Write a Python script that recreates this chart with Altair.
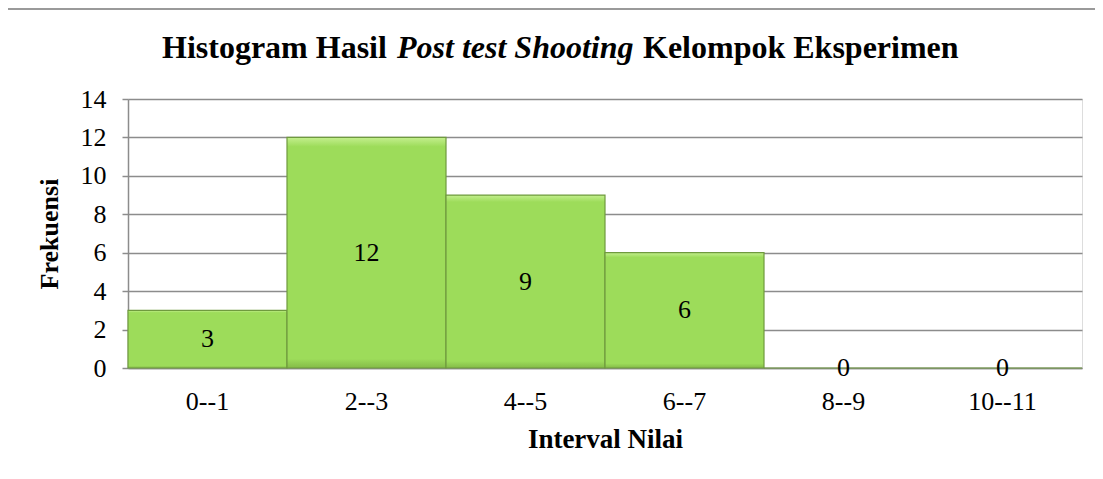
import altair as alt
import pandas as pd

categories = ["0--1", "2--3", "4--5", "6--7", "8--9", "10--11"]
frekuensi = [3, 12, 9, 6, 0, 0]
y_ticks = [0, 2, 4, 6, 8, 10, 12, 14]

df = pd.DataFrame({"interval": categories, "frek": frekuensi})
df["mid"] = df["frek"] / 2

FONT = "Liberation Serif"
W, H = 954, 269

bar_fill = alt.Gradient(
    gradient="linear", x1=0, y1=0, x2=0, y2=1,
    stops=[alt.GradientStop(offset=0, color="#c4ef8e"),
           alt.GradientStop(offset=0.04, color="#9ddc5a"),
           alt.GradientStop(offset=0.96, color="#9ddc5a"),
           alt.GradientStop(offset=1, color="#84bb48")],
)

x_enc = alt.X("interval:N", sort=categories,
              scale=alt.Scale(paddingInner=0, paddingOuter=0),
              axis=alt.Axis(title="Interval Nilai", labelAngle=0, ticks=False,
                            labelPadding=20, labelFontSize=26, labelFont=FONT,
                            labelColor="black", titleFont=FONT, titleFontSize=27,
                            titleFontWeight="bold", titleColor="black", titlePadding=12,
                            domainColor="#8c8c8c", domainWidth=1.5, grid=False))

bars = alt.Chart(df).mark_bar(color=bar_fill, stroke="#6f9a3e", strokeWidth=1.2).encode(
    x=x_enc,
    y=alt.Y("frek:Q", scale=alt.Scale(domain=[0, 14], nice=False),
            axis=alt.Axis(title="Frekuensi", values=y_ticks, tickSize=6,
                          labelOverlap=False, tickCount=8,
                          tickColor="#8c8c8c", tickWidth=1.5,
                          gridColor="#8c8c8c", gridWidth=1.5,
                          domainColor="#8c8c8c", domainWidth=1.5,
                          labelFontSize=26, labelFont=FONT, labelColor="black",
                          labelPadding=16, titleFont=FONT, titleFontSize=26,
                          titleFontWeight="bold", titleColor="black", titlePadding=18)),
)

labels = alt.Chart(df).mark_text(font=FONT, fontSize=26, color="black", baseline="middle").encode(
    x=alt.X("interval:N", sort=categories),
    y=alt.Y("mid:Q"),
    text="frek:Q",
)

t1 = alt.Chart(pd.DataFrame({"t": ["Histogram Hasil"]})).mark_text(
    font=FONT, fontSize=32, fontWeight="bold", align="left", baseline="alphabetic", color="black"
).encode(text="t:N", x=alt.value(34), y=alt.value(-41))
t2 = alt.Chart(pd.DataFrame({"t": ["Post test Shooting"]})).mark_text(
    font=FONT, fontSize=32, fontWeight="bold", fontStyle="italic", align="left",
    baseline="alphabetic", color="black"
).encode(text="t:N", x=alt.value(269), y=alt.value(-41))
t3 = alt.Chart(pd.DataFrame({"t": ["Kelompok Eksperimen"]})).mark_text(
    font=FONT, fontSize=32, fontWeight="bold", align="left", baseline="alphabetic", color="black"
).encode(text="t:N", x=alt.value(515), y=alt.value(-41))

border_top = alt.Chart(pd.DataFrame({"a": [0]})).mark_rule(color="#9a9a9a", strokeWidth=2).encode(
    x=alt.value(-121), x2=alt.value(968), y=alt.value(-90))
border_left = alt.Chart(pd.DataFrame({"a": [0]})).mark_rule(color="#9a9a9a", strokeWidth=2).encode(
    x=alt.value(-121), y=alt.value(-90), y2=alt.value(380))

chart = alt.layer(bars, labels, t1, t2, t3, border_top, border_left).properties(
    width=W, height=H,
    autosize=alt.AutoSizeParams(type="none"),
    padding={"left": 120, "top": 91, "right": 13, "bottom": 103},
).configure_view(stroke=None).configure(background="white")

chart.save("out.html", embed_options={"renderer": "svg", "actions": False})
